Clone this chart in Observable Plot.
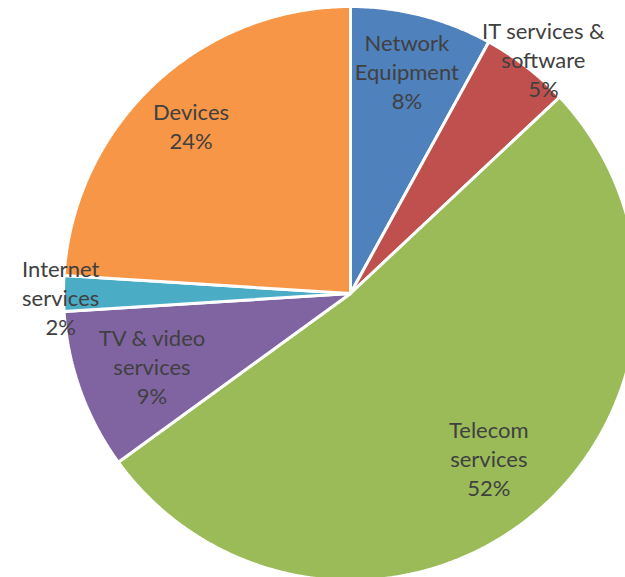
<!DOCTYPE html>
<html>
<head>
<meta charset="utf-8">
<script src="https://cdn.jsdelivr.net/npm/d3@7"></script>
<script src="https://cdn.jsdelivr.net/npm/@observablehq/plot@0.6"></script>
<style>
  html, body { margin: 0; padding: 0; background: #fff; }
  #chart svg { display: block; }
</style>
</head>
<body>
<div id="chart"></div>
<script>
// ---- data ----
const categories = ["Network Equipment", "IT services & software", "Telecom services", "TV & video services", "Internet services", "Devices"];
const labelLines = ["Network\nEquipment", "IT services &\nsoftware", "Telecom\nservices", "TV & video\nservices", "Internet\nservices", "Devices"];
const shares = [8, 5, 52, 9, 2, 24];
const colors = ["#4F81BD", "#C0504D", "#9BBB59", "#8064A2", "#4BACC6", "#F79646"];

// ---- layout ----
const W = 625, H = 577;
const R = 287;
const labelRadius = [0.79, 1.05, 0.756, 0.74, 1.01, 0.8];
const labelNudgeDeg = [0, 2, 0, -1, -1.2, -0.8];

const arcs = d3.pie().sort(null).value(d => d)(shares);

const points = [];
arcs.forEach((a, i) => {
  const cat = categories[i];
  points.push({cat, x: 0, y: 0});
  const n = Math.max(4, Math.ceil((a.endAngle - a.startAngle) / (Math.PI / 360)));
  for (let k = 0; k <= n; k++) {
    const t = a.startAngle + (a.endAngle - a.startAngle) * k / n;
    points.push({cat, x: R * Math.sin(t), y: R * Math.cos(t)});
  }
});

const labels = arcs.map((a, i) => {
  const mid = (a.startAngle + a.endAngle) / 2 + labelNudgeDeg[i] * Math.PI / 180;
  const r = R * labelRadius[i];
  return {
    cat: categories[i],
    text: labelLines[i] + "\n" + shares[i] + "%",
    x: r * Math.sin(mid),
    y: r * Math.cos(mid)
  };
});

const chart = Plot.plot({
  width: W,
  height: H,
  margin: 0,
  x: {domain: [-350, W - 350], axis: null},
  y: {domain: [-(H - 293), 293], axis: null},
  color: {domain: categories, range: colors},
  style: {fontFamily: "Lato, sans-serif", background: "#fff"},
  marks: [
    Plot.line(points, {
      x: "x", y: "y", z: "cat", fill: "cat",
      stroke: "white", strokeWidth: 3, strokeLinejoin: "miter",
      curve: "linear-closed"
    }),
    Plot.text(labels, {
      x: "x", y: "y", text: "text",
      fill: "#404040", fontSize: 22, lineHeight: 1.32,
      textAnchor: "middle", dy: -3
    })
  ]
});
document.getElementById("chart").appendChild(chart);
</script>
</body>
</html>
